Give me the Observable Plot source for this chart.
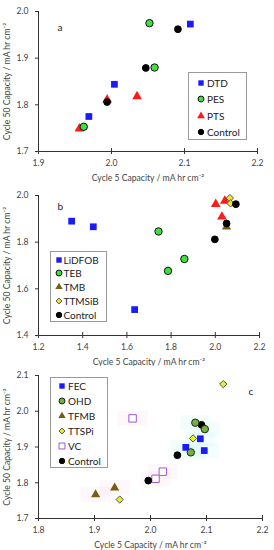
<!DOCTYPE html>
<html>
<head>
<meta charset="utf-8">
<script src="https://cdn.jsdelivr.net/npm/d3@7"></script>
<script src="https://cdn.jsdelivr.net/npm/@observablehq/plot@0.6"></script>
<style>
  html, body { margin: 0; padding: 0; background: #fff; }
  #wrap { position: relative; width: 274px; height: 550px; font-family: Lato, "Open Sans", sans-serif; }
  .panel { position: relative; width: 274px; }
  .panel svg { display: block; overflow: visible; }
  .legend { position: absolute; border: 1px solid #9a9a9a; background: #fff; font-size: 10px; color: #222; box-sizing: border-box; }
  .legend .row { position: absolute; left: 0; display: flex; align-items: center; white-space: nowrap; }
  .legend svg { display: block; }
</style>
</head>
<body>
<div id="wrap"></div>
<script>
// ---------- Panel a ----------
const dtdX = [2.108, 2.004, 1.969], dtdY = [1.973, 1.844, 1.775];
const pesX = [2.052, 2.059, 1.962], pesY = [1.975, 1.880, 1.753];
const ptsX = [2.035, 1.994, 1.956], ptsY = [1.818, 1.811, 1.749];
const ctrlAX = [2.091, 2.047, 1.994], ctrlAY = [1.962, 1.879, 1.806];

// ---------- Panel b ----------
const lidfobX = [1.350, 1.448, 1.635], lidfobY = [1.890, 1.866, 1.511];
const tebX = [1.743, 1.786, 1.860], tebY = [1.846, 1.677, 1.728];
const redTriX = [2.002, 2.043, 2.030], redTriY = [1.963, 1.977, 1.909];
const tmbX = [2.051], tmbY = [1.866];
const ttmsibX = [2.066, 2.069], ttmsibY = [1.989, 1.966];
const ctrlBX = [2.093, 2.051, 1.998], ctrlBY = [1.963, 1.880, 1.812];

// ---------- Panel c ----------
const fecX = [2.063, 2.089, 2.096], fecY = [1.899, 1.923, 1.890];
const ohdX = [2.080, 2.097, 2.072], ohdY = [1.968, 1.950, 1.885];
const tfmbX = [1.902, 1.936], tfmbY = [1.767, 1.786];
const ttspiX = [2.130, 2.076, 1.945], ttspiY = [2.076, 1.924, 1.753];
const vcX = [1.968, 2.009, 2.022], vcY = [1.980, 1.811, 1.831];
const ctrlCX = [1.996, 2.048, 2.091], ctrlCY = [1.806, 1.877, 1.962];

// tick labels
const ticksA_X = [1.9, 2.0, 2.1, 2.2], ticksA_Y = [1.7, 1.8, 1.9, 2.0];
const ticksB_X = [1.2, 1.4, 1.6, 1.8, 2.0, 2.2], ticksB_Y = [1.4, 1.6, 1.8, 2.0];
const ticksC_X = [1.8, 1.9, 2.0, 2.1, 2.2], ticksC_Y = [1.7, 1.8, 1.9, 2.0, 2.1];

const xLabel = "Cycle 5 Capacity / mA hr cm\u207B\u00B2";
const yLabel = "Cycle 50 Capacity / mA hr cm\u207B\u00B2";

// styles per series
const ST = {
  DTD:    {symbol: "square",   fill: "#1a1aff", stroke: "none", r: 3.8},
  PES:    {symbol: "circle",   fill: "#3ee03e", stroke: "#111", r: 3.7},
  PTS:    {symbol: "triangle", fill: "#ff1a1a", stroke: "none", r: 3.6},
  Control:{symbol: "circle",   fill: "#000",    stroke: "#000", r: 3.4},
  LiDFOB: {symbol: "square",   fill: "#1a1aff", stroke: "none", r: 3.8},
  TEB:    {symbol: "circle",   fill: "#3ee03e", stroke: "#111", r: 3.7},
  RED:    {symbol: "triangle", fill: "#ff1a1a", stroke: "none", r: 3.6},
  TMB:    {symbol: "triangle", fill: "#7a5c12", stroke: "none", r: 3.4},
  TTMSiB: {symbol: "diamond2", fill: "#f2e52e", stroke: "#555", r: 3.3},
  FEC:    {symbol: "square",   fill: "#1a1aff", stroke: "none", r: 3.8},
  OHD:    {symbol: "circle",   fill: "#72b340", stroke: "#222", r: 3.7},
  TFMB:   {symbol: "triangle", fill: "#7a5c12", stroke: "none", r: 3.4},
  TTSPi:  {symbol: "diamond2", fill: "#e6f02a", stroke: "#555", r: 3.3},
  VC:     {symbol: "square",   fill: "#fff",    stroke: "#9b59d6", r: 4.2},
};

const glowRect = {draw(ctx) { ctx.rect(-15, -7.5, 30, 15); }};

function series(xs, ys, name) {
  const s = ST[name];
  const data = xs.map((x, i) => ({x, y: ys[i]}));
  return Plot.dot(data, {x: "x", y: "y", symbol: () => s.symbol, r: s.r, fill: s.fill, stroke: s.stroke, strokeWidth: 1});
}
function glow(xs, ys, color) {
  const data = xs.map((x, i) => ({x, y: ys[i]}));
  return Plot.dot(data, {x: "x", y: "y", symbol: () => glowRect, r: 5, fill: color, fillOpacity: 0.3, stroke: "none"});
}

function swatch(name) {
  const s = ST[name];
  const k = 0.8;
  const sym = d3.symbol().type({
    square: d3.symbolSquare, circle: d3.symbolCircle, triangle: d3.symbolTriangle, diamond2: d3.symbolDiamond2
  }[s.symbol]).size(Math.PI * s.r * s.r * k * k)();
  return `<svg width="10" height="10" viewBox="-5 -5 10 10"><path d="${sym}" fill="${s.fill}" stroke="${s.stroke}" stroke-width="1"/></svg>`;
}

function panel({xDomain, yDomain, xTicks, yTicks, height, mt, mb, mr, marks, legend, tag}) {
  const plot = Plot.plot({
    width: 274, height,
    marginLeft: 38, marginRight: mr, marginTop: mt, marginBottom: mb,
    style: {fontFamily: "Lato, 'Open Sans', sans-serif", fontSize: "8.6px", color: "#333", background: "#fff"},
    x: {domain: xDomain},
    y: {domain: yDomain},
    marks: [
      ...(marks.pre || []),
      Plot.ruleY([yDomain[0]], {stroke: "#333", strokeWidth: 1}),
      Plot.ruleX([xDomain[0]], {stroke: "#333", strokeWidth: 1}),
      Plot.axisX(xTicks, {tickSize: 3, tickPadding: 5, tickFormat: d3.format(".1f"), fill: "#444", stroke: "#333",
        label: xLabel, labelAnchor: "center", labelArrow: "none", labelOffset: 29}),
      Plot.axisX(xTicks, {tickSize: -3, tickFormat: () => "", stroke: "#333", label: null}),
      Plot.axisY(yTicks, {tickSize: 3, tickPadding: 7, tickFormat: d3.format(".1f"), fill: "#444", stroke: "#333",
        label: yLabel, labelAnchor: "center", labelArrow: "none", labelOffset: 35}),
      ...marks.main,
      Plot.text([tag.t], {frameAnchor: "top-left", dx: tag.dx, dy: tag.dy, text: d => d, fontSize: 10, fill: "#222"})
    ]
  });
  const div = document.createElement("div");
  div.className = "panel";
  div.appendChild(plot);
  const lg = document.createElement("div");
  lg.className = "legend";
  Object.assign(lg.style, {left: legend.left + "px", top: legend.top + "px", width: legend.w + "px", height: legend.h + "px"});
  legend.items.forEach((name, i) => {
    const row = document.createElement("div");
    row.className = "row";
    row.style.top = (legend.first + i * legend.step - 7) + "px";
    row.style.left = (legend.mx - 5) + "px";
    row.innerHTML = swatch(name) + `<span style="margin-left:${legend.gap}px;line-height:14px">${name}</span>`;
    lg.appendChild(row);
  });
  div.appendChild(lg);
  return div;
}

const wrap = document.getElementById("wrap");

wrap.appendChild(panel({
  xDomain: [1.9, 2.2], yDomain: [1.7, 2.0], xTicks: ticksA_X, yTicks: ticksA_Y,
  height: 183, mt: 11, mb: 32, mr: 17,
  marks: {main: [series(dtdX, dtdY, "DTD"), series(ptsX, ptsY, "PTS"), series(ctrlAX, ctrlAY, "Control"), series(pesX, pesY, "PES")]},
  legend: {left: 188, top: 72, w: 59, h: 68, items: ["DTD", "PES", "PTS", "Control"], first: 9.5, step: 16.5, mx: 12, gap: 1},
  tag: {t: "a", dx: 19, dy: 12}
}));

wrap.appendChild(panel({
  xDomain: [1.2, 2.2], yDomain: [1.4, 2.0], xTicks: ticksB_X, yTicks: ticksB_Y,
  height: 183, mt: 12, mb: 31, mr: 15,
  marks: {main: [series(lidfobX, lidfobY, "LiDFOB"), series(tebX, tebY, "TEB"), series(redTriX, redTriY, "RED"),
          series(tmbX, tmbY, "TMB"), series(ttmsibX, ttmsibY, "TTMSiB"), series(ctrlBX, ctrlBY, "Control")]},
  legend: {left: 50, top: 68, w: 57, h: 71, items: ["LiDFOB", "TEB", "TMB", "TTMSiB", "Control"], first: 7.5, step: 13.75, mx: 7.5, gap: 0},
  tag: {t: "b", dx: 19, dy: 7}
}));

wrap.appendChild(panel({
  xDomain: [1.8, 2.2], yDomain: [1.7, 2.1], xTicks: ticksC_X, yTicks: ticksC_Y,
  height: 184, mt: 9, mb: 32, mr: 12,
  marks: {
    pre: [glow(vcX, vcY, "#fbe3f2"), glow(tfmbX, tfmbY, "#fbe3f2"), glow(fecX, fecY, "#d8f7f7"), glow(ohdX, ohdY, "#d8f7f7")],
    main: [series(tfmbX, tfmbY, "TFMB"), series(vcX, vcY, "VC"), series(ctrlCX, ctrlCY, "Control"),
          series(fecX, fecY, "FEC"), series(ohdX, ohdY, "OHD"), series(ttspiX, ttspiY, "TTSPi")]},
  legend: {left: 50, top: 11, w: 58, h: 91, items: ["FEC", "OHD", "TFMB", "TTSPi", "VC", "Control"], first: 8.3, step: 14.85, mx: 11, gap: 1},
  tag: {t: "c", dx: 210, dy: 12}
}));
</script>
</body>
</html>
